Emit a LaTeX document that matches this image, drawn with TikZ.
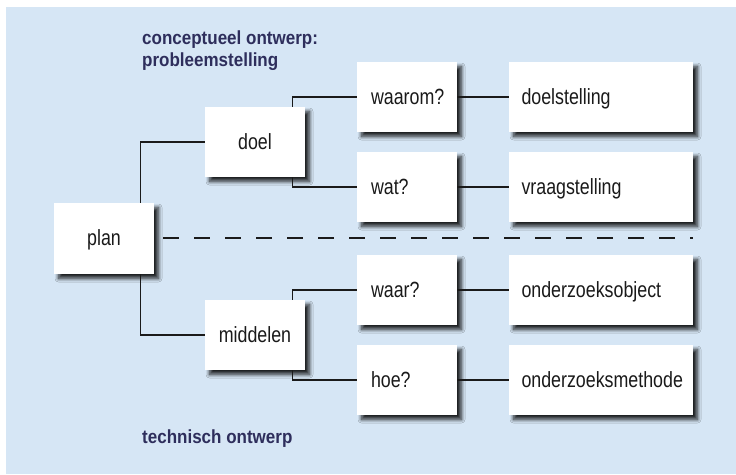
\documentclass[tikz,border=0pt]{standalone}
\usepackage{fontspec}
\setmainfont{Liberation Sans}[FakeStretch=0.81]
\newfontfamily\titlefont{Liberation Sans}[FakeStretch=0.895]
\usetikzlibrary{shadows.blur,calc}
\definecolor{bgblue}{RGB}{214,230,245}
\definecolor{navy}{RGB}{46,46,92}
\definecolor{ink}{RGB}{26,26,26}
\tikzset{
  box/.style={fill=white, inner ysep=0pt, inner xsep=0pt, text height=14.5pt, text depth=0pt,
    minimum height=70pt, text=ink, font=\fontsize{22}{26}\selectfont,
    blur shadow={shadow xshift=4.5pt, shadow yshift=-4.5pt, shadow blur radius=3.5pt, shadow blur steps=10, shadow opacity=85}},
  smallbox/.style={box, minimum width=100pt},
  qbox/.style={box, minimum width=100pt, align=left, inner xsep=14pt, text width=72pt},
  widebox/.style={box, minimum width=184pt, align=left, inner xsep=12.5pt, text width=159pt},
  conn/.style={draw=ink, line width=1.2pt},
  divider/.style={draw=ink, line width=1.4pt, dash pattern=on 16pt off 15pt},
  title/.style={anchor=base west, inner sep=0pt, text=navy, font=\titlefont\bfseries\fontsize{19}{22}\selectfont}
}
\begin{document}
\begin{tikzpicture}[x=1pt,y=-1pt]
\useasboundingbox (0,0) rectangle (736,474);
\fill[bgblue] (6,7) rectangle (736,474);

\node[title] (t1) at (142,44) {conceptueel ontwerp:};
\node[title] (t2) at (142,66) {probleemstelling};
\node[title] (t3) at (142,443.5) {technisch ontwerp};

\node[smallbox, minimum height=71pt] (plan) at (104,238.5) {plan};
\node[smallbox] (doel) at (255,142) {doel};
\node[smallbox] (middelen) at (255,335) {middelen};

\node[qbox] (waarom) at (407,97) {\mbox{waarom?}};
\node[qbox] (wat) at (407,187) {\mbox{wat?}};
\node[qbox] (waar) at (407,290) {\mbox{waar?}};
\node[qbox] (hoe) at (407,380) {\mbox{hoe?}};

\node[widebox] (doelst) at (601,97) {\mbox{doelstelling}};
\node[widebox] (vraagst) at (601,187) {\mbox{vraagstelling}};
\node[widebox] (object) at (601,290) {\mbox{onderzoeksobject}};
\node[widebox] (methode) at (601,380) {\mbox{onderzoeksmethode}};

\draw[conn] (plan.north east) ++(-14,0) |- (doel.west);
\draw[conn] (plan.south east) ++(-14,0) |- (middelen.west);
\draw[conn] (doel.north east) ++(-13,0) |- (waarom.west);
\draw[conn] (doel.south east) ++(-13,0) |- (wat.west);
\draw[conn] (middelen.north east) ++(-13,0) |- (waar.west);
\draw[conn] (middelen.south east) ++(-13,0) |- (hoe.west);
\draw[conn] (waarom.east) -- (doelst.west);
\draw[conn] (wat.east) -- (vraagst.west);
\draw[conn] (waar.east) -- (object.west);
\draw[conn] (hoe.east) -- (methode.west);

\draw[divider] ([xshift=9pt,yshift=0.5pt]plan.east) -- ([yshift=0.5pt]plan.east -| doelst.east);
\end{tikzpicture}
\end{document}
